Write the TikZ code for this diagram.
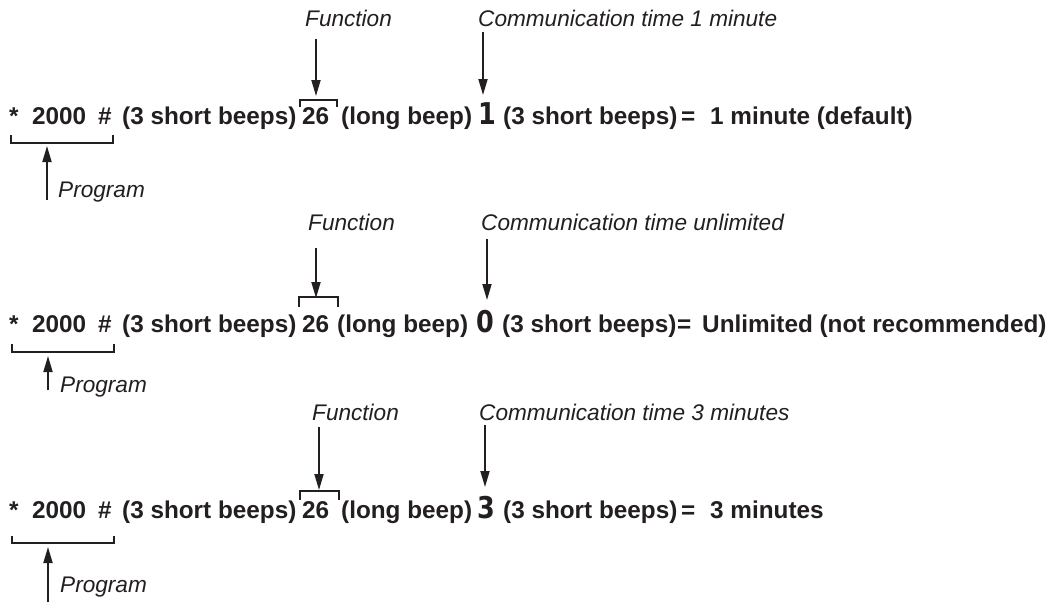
\documentclass[tikz,border=0pt]{standalone}
\usepackage{fontspec}
\setmainfont{Liberation Sans}
\newfontfamily\digitfont{DejaVu Sans}[FakeStretch=0.85]
\usetikzlibrary{arrows.meta}
\definecolor{ink}{HTML}{231F20}
\begin{document}
\begin{tikzpicture}[x=1pt,y=-1pt,
  body/.style={anchor=base west, inner sep=0pt, text=ink, font=\fontsize{24.3}{28}\selectfont\bfseries},
  big/.style={anchor=base west, inner sep=0pt, text=ink, font=\fontsize{30}{34}\selectfont\digitfont\bfseries},
  lbl/.style={anchor=base west, inner sep=0pt, text=ink, font=\fontsize{22.6}{26}\selectfont\itshape},
  arr/.style={draw=ink, line width=1.8pt, -{Triangle[length=16pt,width=9pt]}},
  brk/.style={draw=ink, line width=1.8pt}]
\useasboundingbox[fill=white] (0,0) rectangle (1056,608);

% ---------- Row 1 ----------
\node[body] (s1) at (9,124) {*};
\node[body] (n1) at (32,124) {2000};
\node[body] (h1) at (98,124) {\#};
\node[body] (b1) at (122,124) {(3 short beeps)};
\node[body] (f1) at (302,124) {26};
\node[body] (l1) at (341,124) {(long beep)};
\node[big]  (d1) at (478,124) {1};
\node[body] (c1) at (503,124) {(3 short beeps)};
\node[body] (e1) at (681,124) {=};
\node[body] (r1) at (710,124) {1 minute (default)};
\node[lbl] (fl1) at (305,26) {Function};
\node[lbl] (cl1) at (478,26) {Communication time 1 minute};
\node[lbl] (pl1) at (58,197) {Program};
\draw[brk] (300,107) -- (300,100) -- (337,100) -- (337,107);
\draw[brk] (11,135) -- (11,143) -- (113,143) -- (113,135);
\coordinate (fs1) at (316,39);  \coordinate (fe1) at (316,96);
\coordinate (cs1) at (483,32);  \coordinate (ce1) at (483,95);
\coordinate (ps1) at (47,200);  \coordinate (pe1) at (47,146);
\draw[arr] (fs1) -- (fe1);
\draw[arr] (cs1) -- (ce1);
\draw[arr] (ps1) -- (pe1);

% ---------- Row 2 ----------
\node[body] (s2) at (9,332) {*};
\node[body] (n2) at (32,332) {2000};
\node[body] (h2) at (98,332) {\#};
\node[body] (b2) at (122,332) {(3 short beeps)};
\node[body] (f2) at (302,332) {26};
\node[body] (l2) at (337,332) {(long beep)};
\node[big]  (d2) at (476,332) {0};
\node[body] (c2) at (502,332) {(3 short beeps)};
\node[body] (e2) at (677,332) {=};
\node[body] (r2) at (702,332) {Unlimited (not recommended)};
\node[lbl] (fl2) at (308,230) {Function};
\node[lbl] (cl2) at (481,230) {Communication time unlimited};
\node[lbl] (pl2) at (60,392) {Program};
\draw[brk] (299,307) -- (299,297) -- (338,297) -- (338,307);
\draw[brk] (12,344) -- (12,352) -- (114,352) -- (114,344);
\coordinate (fs2) at (316,248); \coordinate (fe2) at (316,298);
\coordinate (cs2) at (487,239); \coordinate (ce2) at (487,300);
\coordinate (ps2) at (48,390);  \coordinate (pe2) at (48,356);
\draw[arr] (fs2) -- (fe2);
\draw[arr] (cs2) -- (ce2);
\draw[arr] (ps2) -- (pe2);

% ---------- Row 3 ----------
\node[body] (s3) at (9,518) {*};
\node[body] (n3) at (32,518) {2000};
\node[body] (h3) at (98,518) {\#};
\node[body] (b3) at (122,518) {(3 short beeps)};
\node[body] (f3) at (302,518) {26};
\node[body] (l3) at (341,518) {(long beep)};
\node[big]  (d3) at (477,518) {3};
\node[body] (c3) at (503,518) {(3 short beeps)};
\node[body] (e3) at (681,518) {=};
\node[body] (r3) at (710,518) {3 minutes};
\node[lbl] (fl3) at (312,420) {Function};
\node[lbl] (cl3) at (479,420) {Communication time 3 minutes};
\node[lbl] (pl3) at (60,592) {Program};
\draw[brk] (300,500) -- (300,491) -- (339,491) -- (339,500);
\draw[brk] (12,536) -- (12,543) -- (114,543) -- (114,536);
\coordinate (fs3) at (319,427); \coordinate (fe3) at (319,490);
\coordinate (cs3) at (485,425); \coordinate (ce3) at (485,487);
\coordinate (ps3) at (48,602);  \coordinate (pe3) at (48,547);
\draw[arr] (fs3) -- (fe3);
\draw[arr] (cs3) -- (ce3);
\draw[arr] (ps3) -- (pe3);
\end{tikzpicture}
\end{document}
